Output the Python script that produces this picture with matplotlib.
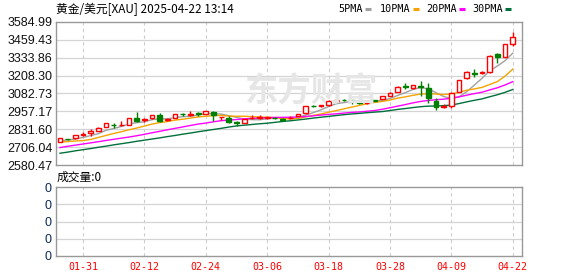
import matplotlib
matplotlib.use('Agg')
import matplotlib.pyplot as plt
from matplotlib.lines import Line2D

# trading days shown on the chart
dates = ['01-28', '01-29', '01-30', '01-31',
         '02-03', '02-04', '02-05', '02-06', '02-07', '02-10', '02-11', '02-12',
         '02-13', '02-14', '02-17', '02-18', '02-19', '02-20', '02-21', '02-24',
         '02-25', '02-26', '02-27', '02-28',
         '03-03', '03-04', '03-05', '03-06', '03-07', '03-10', '03-11', '03-12',
         '03-13', '03-14', '03-17', '03-18', '03-19', '03-20', '03-21', '03-24',
         '03-25', '03-26', '03-27', '03-28', '03-31',
         '04-01', '04-02', '04-03', '04-04', '04-07', '04-08', '04-09',
         '04-10', '04-11', '04-14', '04-15', '04-16', '04-17', '04-21', '04-22']

opens = [2744, 2762, 2768, 2790, 2803, 2819, 2847, 2862, 2858, 2862,
         2913, 2896, 2908, 2932, 2896, 2913, 2940, 2934, 2943, 2941,
         2955, 2918, 2913, 2880, 2878, 2909, 2911, 2910, 2912, 2905,
         2910, 2925, 2944, 2997, 2994, 2999, 3030, 3040, 3036, 3030,
         3014, 3035, 3044, 3065, 3096, 3133, 3119, 3133, 3119, 3030,
         2990, 2997, 3095, 3189, 3226, 3228, 3232, 3358, 3341, 3433]
highs = [2770, 2766, 2793, 2813, 2833, 2845, 2876, 2873, 2892, 2911,
         2951, 2913, 2935, 2944, 2913, 2942, 2944, 2960, 2951, 2963,
         2960, 2921, 2925, 2890, 2904, 2930, 2930, 2920, 2918, 2908,
         2922, 2940, 2998, 3003, 3001, 3035, 3046, 3046, 3038, 3033,
         3033, 3040, 3068, 3091, 3134, 3159, 3145, 3173, 3159, 3049,
         3009, 3096, 3180, 3239, 3253, 3241, 3351, 3369, 3431, 3513]
lows = [2740, 2755, 2766, 2784, 2786, 2816, 2844, 2842, 2856, 2860,
        2885, 2880, 2905, 2880, 2889, 2910, 2927, 2927, 2927, 2938,
        2891, 2899, 2873, 2854, 2875, 2903, 2903, 2906, 2904, 2890,
        2905, 2922, 2940, 2991, 2990, 2996, 3020, 3030, 3009, 3011,
        3011, 3027, 3041, 3062, 3093, 3112, 3116, 3065, 3018, 2967,
        2979, 2983, 3092, 3186, 3200, 3220, 3229, 3295, 3338, 3418]
closes = [2768, 2760, 2791, 2795, 2819, 2842, 2873, 2858, 2862, 2908,
          2889, 2903, 2932, 2892, 2903, 2939, 2936, 2938, 2939, 2960,
          2932, 2920, 2885, 2877, 2901, 2913, 2915, 2917, 2908, 2899,
          2914, 2937, 2995, 2994, 2999, 3032, 3035, 3036, 3030, 3018,
          3030, 3032, 3065, 3088, 3131, 3129, 3142, 3129, 3049, 2990,
          2993, 3084, 3177, 3236, 3222, 3233, 3348, 3341, 3428, 3482]

ma5 = [2752, 2756, 2763, 2774, 2787, 2801, 2824, 2837, 2851, 2869,
       2878, 2884, 2899, 2905, 2904, 2914, 2920, 2922, 2931, 2942,
       2941, 2938, 2927, 2915, 2903, 2899, 2898, 2905, 2911, 2910,
       2911, 2915, 2931, 2948, 2968, 2991, 3011, 3019, 3026, 3030,
       3030, 3029, 3035, 3047, 3069, 3089, 3111, 3124, 3116, 3088,
       3061, 3049, 3059, 3096, 3142, 3190, 3243, 3276, 3314, 3366]
ma10 = [2741, 2745, 2749, 2752, 2760, 2774, 2788, 2802, 2814, 2828,
        2840, 2854, 2868, 2878, 2886, 2896, 2902, 2910, 2918, 2923,
        2927, 2929, 2924, 2923, 2923, 2920, 2918, 2916, 2913, 2907,
        2905, 2907, 2918, 2929, 2939, 2951, 2963, 2975, 2987, 2999,
        3011, 3020, 3027, 3037, 3050, 3059, 3070, 3079, 3081, 3079,
        3075, 3080, 3091, 3106, 3115, 3126, 3146, 3167, 3205, 3254]
ma20 = [2703, 2712, 2720, 2728, 2736, 2744, 2753, 2761, 2769, 2777,
        2786, 2796, 2807, 2817, 2828, 2838, 2848, 2858, 2868, 2875,
        2884, 2892, 2896, 2900, 2905, 2908, 2910, 2913, 2915, 2915,
        2916, 2918, 2921, 2926, 2931, 2936, 2940, 2945, 2950, 2953,
        2958, 2963, 2972, 2983, 2994, 3005, 3017, 3027, 3034, 3039,
        3043, 3050, 3059, 3071, 3082, 3092, 3108, 3123, 3143, 3166]
ma30 = [2663, 2671, 2680, 2688, 2696, 2705, 2713, 2722, 2730, 2738,
        2747, 2755, 2763, 2771, 2780, 2788, 2797, 2805, 2814, 2822,
        2830, 2838, 2847, 2855, 2860, 2865, 2870, 2874, 2880, 2886,
        2891, 2897, 2903, 2910, 2916, 2922, 2928, 2934, 2939, 2943,
        2948, 2952, 2956, 2963, 2971, 2977, 2984, 2990, 2994, 2995,
        2997, 3002, 3012, 3024, 3035, 3045, 3060, 3074, 3091, 3111]

price_ticks = [2580.47, 2706.04, 2831.60, 2957.17, 3082.73,
               3208.30, 3333.86, 3459.43, 3584.99]
vol_labels = ['0', '0', '0', '0', '0']
date_ticks = [3, 11, 19, 27, 35, 43, 51, 59]

title = '黄金/美元[XAU] 2025-04-22 13:14'
ma_names = ['5PMA', '10PMA', '20PMA', '30PMA']
ma_colors = ['#a0a0a0', '#f5a300', '#ff00ff', '#00703c']

RED = '#ff0000'
GREEN = '#008000'
GRID = '#d4d4d4'
FRAME = '#999999'
CJK = ['Noto Sans CJK SC', 'DejaVu Sans']

W, H = 578, 276
fig = plt.figure(figsize=(W / 100, H / 100), dpi=100)


def rect(x0, y0, x1, y1):
    # pixel box -> figure fraction
    return [x0 / W, 1 - y1 / H, (x1 - x0) / W, (y1 - y0) / H]


ax = fig.add_axes(rect(56, 22, 522, 165))
vax = fig.add_axes(rect(56, 187, 522, 256))

xs = list(range(len(dates)))
xlim = (-0.52, 60.2)

# moving averages
for vals, c in zip([ma5, ma10, ma20, ma30], ma_colors):
    ax.plot(xs, vals, color=c, lw=1.0, zorder=3)

# candles
for i in xs:
    o, h, l, c = opens[i], highs[i], lows[i], closes[i]
    up = c >= o
    col = RED if up else GREEN
    ax.vlines(i, l, h, color=col, lw=1.0, zorder=4)
    ax.bar(i, max(abs(c - o), 1.5), bottom=min(o, c), width=0.62,
           facecolor='white' if up else GREEN, edgecolor=col,
           linewidth=1.0, zorder=5)

for a in (ax, vax):
    a.set_xlim(*xlim)
    for s in a.spines.values():
        s.set_color(FRAME)
        s.set_linewidth(1.0)
    for d in date_ticks:
        a.axvline(d, color='#cccccc', lw=0.8, ls=(0, (3, 3)), zorder=1)
    a.tick_params(length=0)

ax.set_ylim(price_ticks[0], price_ticks[-1])
ax.set_yticks(price_ticks)
ax.set_yticklabels(['%.2f' % v for v in price_ticks],
                   fontfamily='Liberation Sans', fontsize=9, color='#111111')
ax.tick_params(axis='y', pad=2.5)
ax.set_xticks([])
for v in price_ticks[1:-1]:
    ax.axhline(v, color=GRID, lw=0.9, zorder=1)

vax.set_ylim(0, 4)
vax.set_yticks(range(5))
vax.set_yticklabels(vol_labels, fontfamily='Liberation Sans', fontsize=9,
                    color='#0b2a5a')
vax.tick_params(axis='y', pad=3.5)
for v in range(1, 4):
    vax.axhline(v, color=GRID, lw=0.9, zorder=1)
vax.set_xticks(date_ticks)
vax.set_xticklabels([dates[d] for d in date_ticks],
                    fontfamily='DejaVu Sans Mono', fontsize=7.2, color=RED)
vax.tick_params(axis='x', pad=4)

# watermark
fig.text(311 / W, 1 - 92 / H, '东方财富', family=CJK, fontsize=24,
         fontweight='bold', color='#e6e6e6', ha='center', va='center',
         zorder=0)

# header texts
fig.text(56 / W, 1 - 9 / H, title, family=CJK, fontsize=8.5,
         ha='left', va='center')
fig.text(57 / W, 1 - 177 / H, '成交量:0', family=CJK, fontsize=8.5,
         ha='left', va='center')

# legend
legend_x = [338, 380, 426, 472]
mark_x = [365, 413, 459, 505]
for name, c, tx, mx in zip(ma_names, ma_colors, legend_x, mark_x):
    fig.text(tx / W, 1 - 9 / H, name, family='DejaVu Sans Mono',
             fontsize=7.3, ha='left', va='center')
    fig.add_artist(Line2D([mx / W, (mx + 6) / W], [1 - 9 / H, 1 - 9 / H],
                          color=c, lw=2.2, solid_capstyle='butt'))

fig.savefig('out.png', dpi=100)
